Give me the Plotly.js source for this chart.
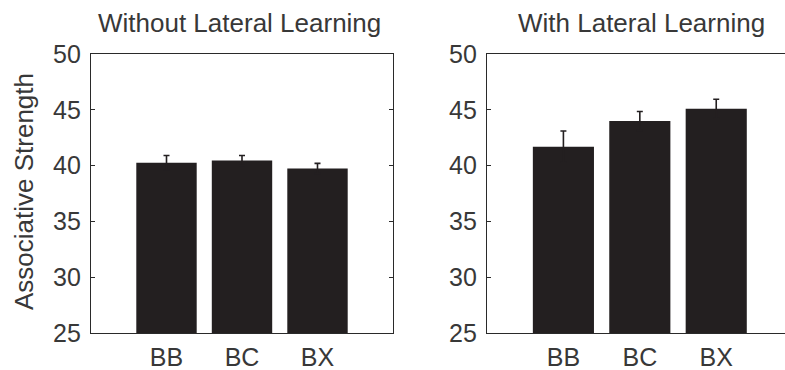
<!DOCTYPE html>
<html>
<head>
<meta charset="utf-8">
<script src="https://cdn.plot.ly/plotly-3.0.1.min.js"></script>
<style>
  html, body { margin: 0; padding: 0; background: #ffffff; overflow: hidden; }
  #chart { width: 785px; height: 370px; }
</style>
</head>
<body>
<div id="chart"></div>
<script>
// Conditions shown on the x axis of both panels
const categories = ['BB', 'BC', 'BX'];

// Mean associative strength and its upper error, without lateral learning
const withoutLateral = [40.25, 40.45, 39.75];
const withoutLateralErr = [0.65, 0.45, 0.45];

// Mean associative strength and its upper error, with lateral learning
const withLateral = [41.7, 44.0, 45.1];
const withLateralErr = [1.4, 0.85, 0.85];

// Y axis tick values shared by both panels
const yTicks = [25, 30, 35, 40, 45, 50];

const panelTitles = ['Without Lateral Learning', 'With Lateral Learning'];
const yTitle = 'Associative Strength';

const ink = '#2a2a2a';
const barColor = '#231f20';
const font = { family: '"Liberation Sans", Arial, Helvetica, sans-serif', size: 25, color: '#383838' };

function barTrace(values, errors, xa, ya) {
  return {
    type: 'bar',
    x: categories,
    y: values,
    xaxis: xa,
    yaxis: ya,
    marker: { color: barColor, line: { width: 0 } },
    error_y: { type: 'data', array: errors, visible: true, color: barColor, thickness: 1.6, width: 3 },
    hoverinfo: 'skip',
    showlegend: false
  };
}

const data = [
  barTrace(withoutLateral, withoutLateralErr, 'x', 'y'),
  barTrace(withLateral, withLateralErr, 'x2', 'y2')
];

const yBase = {
  range: [25, 50],
  tickvals: yTicks,
  ticktext: yTicks.map(String),
  ticks: 'inside',
  ticklen: 4,
  tickwidth: 1,
  tickcolor: ink,
  showline: true,
  linecolor: ink,
  linewidth: 1.2,
  showgrid: false,
  zeroline: false,
  fixedrange: true,
  ticklabelstandoff: 4,
  tickfont: font
};

const xBase = {
  type: 'category',
  ticks: '',
  showline: true,
  linecolor: ink,
  linewidth: 1.2,
  mirror: true,
  showgrid: false,
  zeroline: false,
  fixedrange: true,
  ticklabelstandoff: 2,
  tickfont: font
};

const yBottom = 37 / 370;
const yTop = 316 / 370;
const titleFont = Object.assign({}, font, { size: 26 });

const layout = {
  width: 785,
  height: 370,
  margin: { l: 0, r: 0, t: 0, b: 0, pad: 0 },
  paper_bgcolor: '#ffffff',
  plot_bgcolor: '#ffffff',
  bargap: 0.2,
  font: font,
  xaxis: Object.assign({}, xBase, { domain: [91 / 785, 393 / 785], range: [-1, 3], anchor: 'y' }),
  yaxis: Object.assign({}, yBase, { domain: [yBottom, yTop], anchor: 'x', mirror: 'ticks' }),
  xaxis2: Object.assign({}, xBase, { domain: [487 / 785, 1], range: [-1, 2.9], anchor: 'y2' }),
  yaxis2: Object.assign({}, yBase, { domain: [yBottom, yTop], anchor: 'x2', mirror: false }),
  annotations: [
    {
      text: panelTitles[0], xref: 'paper', yref: 'paper',
      x: 239 / 785, y: (370 - 23) / 370, xanchor: 'center', yanchor: 'middle',
      showarrow: false, font: titleFont
    },
    {
      text: panelTitles[1], xref: 'paper', yref: 'paper',
      x: 641 / 785, y: (370 - 23) / 370, xanchor: 'center', yanchor: 'middle',
      showarrow: false, font: titleFont
    },
    {
      text: yTitle, xref: 'paper', yref: 'paper',
      x: 24 / 785, y: (370 - 192) / 370, xanchor: 'center', yanchor: 'middle',
      textangle: -90, showarrow: false, font: titleFont
    }
  ]
};

Plotly.newPlot('chart', data, layout, { staticPlot: true, displayModeBar: false });
</script>
</body>
</html>
